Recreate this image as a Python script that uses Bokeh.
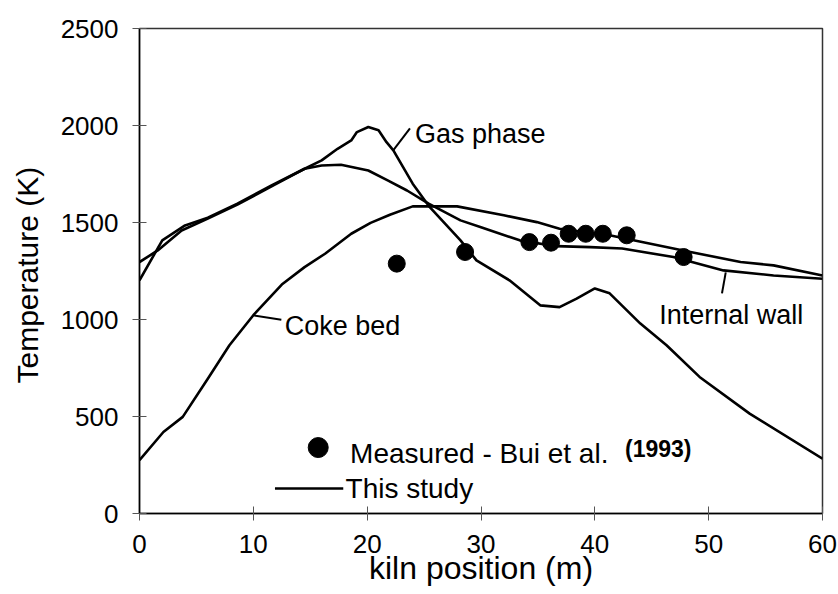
from bokeh.plotting import figure
from bokeh.models import Range1d, FixedTicker
from bokeh.core.properties import value
from bokeh.embed import file_html
from bokeh.resources import INLINE

FONT = "Liberation Sans"

# Axis ticks
x_ticks = [0, 10, 20, 30, 40, 50, 60]
y_ticks = [0, 500, 1000, 1500, 2000, 2500]

# Gas phase temperature along the kiln (m, K)
gas_x = [0, 2.0, 4.0, 6.0, 8.6, 11.6, 14.2, 16.0, 17.4, 18.6, 19.1, 20.1, 21.0, 21.7,
         22.3, 24.0, 25.5, 28.2, 29.6, 32.5, 35.2, 36.9, 38.4, 40.0, 41.3, 44.0, 46.3,
         49.2, 53.6, 60]
gas_T = [1202, 1408, 1485, 1525, 1597, 1691, 1768, 1820, 1880, 1923, 1966, 1992, 1975, 1914,
         1872, 1700, 1579, 1408, 1305, 1202, 1073, 1064, 1108, 1160, 1135, 979, 867,
         704, 515, 283]

# Internal wall temperature
wall_x = [0, 1.6, 3.7, 6.0, 8.6, 11.6, 14.5, 16.0, 17.7, 20.1, 21.8, 23.5, 25.4, 28.2,
          30.0, 33.4, 36.6, 39.6, 42.4, 46.9, 51.3, 55.7, 60]
wall_T = [1296, 1356, 1459, 1520, 1592, 1686, 1777, 1794, 1798, 1768, 1717, 1665, 1597, 1511,
          1475, 1408, 1378, 1373, 1366, 1322, 1253, 1227, 1210]

# Coke bed temperature
coke_x = [0, 2.1, 3.8, 6.0, 7.9, 10.0, 12.5, 14.5, 16.3, 18.6, 20.3, 22.0, 24.0, 27.9,
          32.0, 34.9, 36.9, 41.3, 43.4, 48.4, 52.8, 55.7, 60]
coke_T = [275, 420, 498, 695, 867, 1022, 1180, 1270, 1339, 1442, 1498, 1540, 1583, 1583,
          1537, 1502, 1468, 1434, 1408, 1348, 1296, 1279, 1227]

# Measurements (Bui et al., 1993)
meas_x = [22.6, 28.6, 34.25, 36.15, 37.7, 39.2, 40.7, 42.8, 47.8]
meas_T = [1288, 1348, 1399, 1396, 1442, 1442, 1442, 1434, 1322]

p = figure(width=838, height=594, x_range=Range1d(0, 60), y_range=Range1d(0, 2500),
           output_backend="svg", toolbar_location=None,
           min_border_left=139, min_border_right=16, min_border_top=28, min_border_bottom=81)
p.background_fill_color = "white"
p.border_fill_color = "white"
p.outline_line_color = "#333333"
p.outline_line_width = 1.5
p.xgrid.visible = False
p.ygrid.visible = False

p.xaxis.ticker = FixedTicker(ticks=x_ticks)
p.yaxis.ticker = FixedTicker(ticks=y_ticks)
p.xaxis.axis_label = "kiln position (m)"
p.yaxis.axis_label = "Temperature  (K)"

for ax in (p.xaxis[0], p.yaxis[0]):
    ax.axis_line_color = "black"
    ax.axis_line_width = 1.5
    ax.major_tick_line_color = "#555555"
    ax.major_tick_line_width = 1
    ax.major_tick_in = 7
    ax.major_tick_out = 7
    ax.minor_tick_line_color = None
    ax.major_label_text_font = FONT
    ax.major_label_text_font_size = "26px"
    ax.major_label_text_color = "black"
    ax.axis_label_text_font = FONT
    ax.axis_label_text_font_style = "normal"
    ax.axis_label_text_color = "black"

p.xaxis.major_label_standoff = 14
p.xaxis.axis_label_standoff = -6
p.xaxis.axis_label_text_font_size = "32px"
p.yaxis.major_label_standoff = 14
p.yaxis.axis_label_standoff = 14
p.yaxis.axis_label_text_font_size = "30px"

# Model curves
for xs, ts in ((gas_x, gas_T), (wall_x, wall_T), (coke_x, coke_T)):
    p.line(xs, ts, line_width=2.6, line_color="black", line_join="round")

# Measured points
p.scatter(meas_x, meas_T, size=17, color="black")

# Curve annotations with leader lines
p.segment(x0=[22.27, 9.97, 51.5], y0=[1871, 1022, 1243],
          x1=[23.76, 12.46, 51.17], y1=[1985, 999, 1135],
          line_color="black", line_width=2)
p.text(x=[24.2, 12.76, 45.66], y=[1954, 966, 1025],
       text=["Gas phase", "Coke bed", "Internal wall"],
       text_font=value(FONT), text_font_size="27px", text_color="black",
       text_align="left", text_baseline="alphabetic")

# Legend
p.scatter([15.7], [340], size=20, color="black")
p.segment(x0=[11.9], y0=[129], x1=[17.9], y1=[129], line_color="black", line_width=2.6)
p.text(x=[18.5, 18.1], y=[309, 129], text=["Measured - Bui et al.", "This study"],
       text_font=value(FONT), text_font_size="28px", text_color="black",
       text_align="left", text_baseline="alphabetic")
p.text(x=[42.65], y=[331], text=["(1993)"],
       text_font=value(FONT), text_font_size="23px", text_font_style="bold",
       text_color="black", text_align="left", text_baseline="alphabetic")

open("out.html", "w").write(file_html(p, INLINE))
